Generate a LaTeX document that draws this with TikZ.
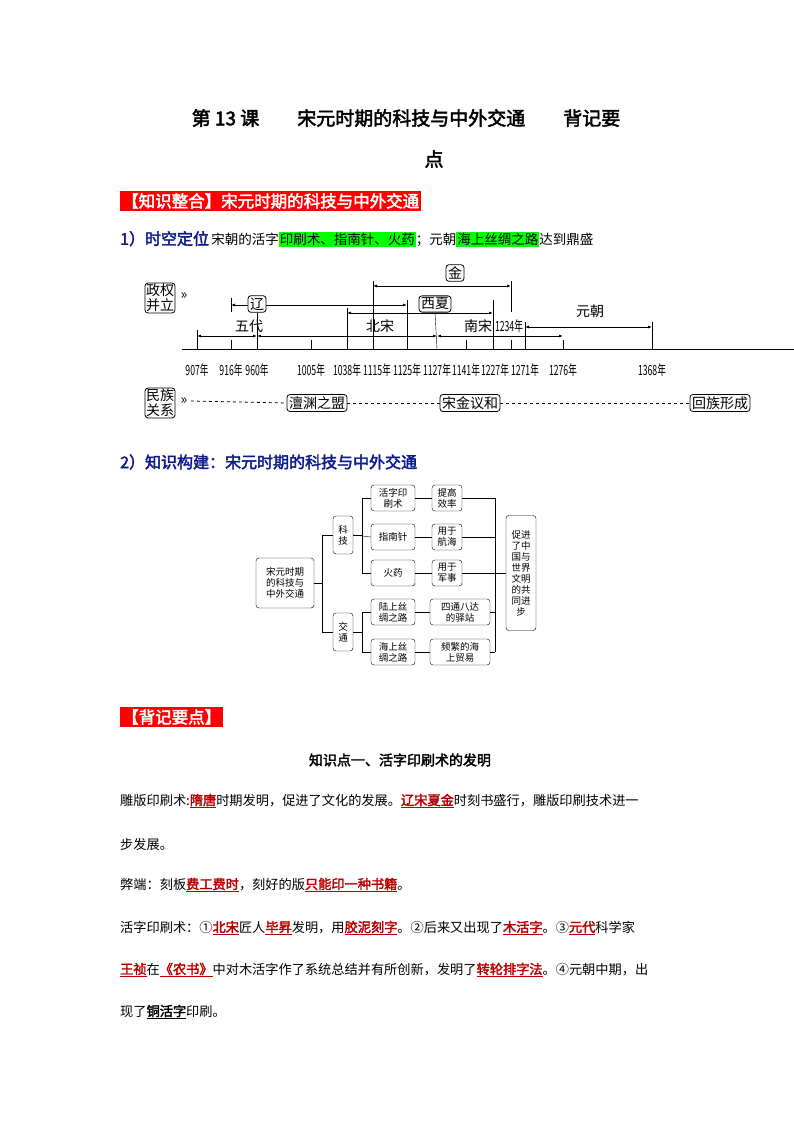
\documentclass[tikz,border=0pt]{standalone}
\usepackage{fontspec}
\setmainfont{Noto Sans CJK SC}[AutoFakeBold=2.5]
\usetikzlibrary{arrows.meta}
\definecolor{dred}{rgb}{0.72,0,0}
\definecolor{navy}{rgb}{0.05,0.1,0.55}
\newcommand{\hl}[1]{\textcolor{dred}{\textbf{\underline{#1}}}}
\newcommand{\yrtxt}[1]{\scalebox{0.62}[1]{#1}}
\begin{document}
\begin{tikzpicture}[x=1pt,y=-1pt,
 rb/.style={draw,rounded corners=3pt,thick,inner sep=2pt,fill=white,font=\fontsize{14}{15}\selectfont},
 fb/.style={draw,rounded corners=3pt,inner sep=1pt,align=center,font=\fontsize{9.5}{11}\selectfont},
 dbl/.style={{Latex[length=4pt]}-{Latex[length=4pt]},thick},
 yr/.style={font=\fontsize{14}{14}\selectfont},
 tl/.style={font=\fontsize{14}{15}\selectfont},
 bt/.style={anchor=west,font=\fontsize{13.2}{14}\selectfont,inner sep=0pt}]
\useasboundingbox (0,0) rectangle (794,1123);
% titles
\node[font=\bfseries\fontsize{19}{20}\selectfont] (t1) at (406,118) {第 13 课\qquad 宋元时期的科技与中外交通\qquad 背记要};
\node[font=\bfseries\fontsize{19}{20}\selectfont] (t2) at (434,159) {点};
\node[fill=red,text=white,anchor=west,inner sep=2pt,font=\bfseries\fontsize{16.5}{18}\selectfont] (b1) at (120,201) {【知识整合】宋元时期的科技与中外交通};
\node[anchor=west,inner sep=0pt] (l1) at (120,239) {\textcolor{navy}{\bfseries\fontsize{16}{17}\selectfont 1）时空定位}\ \fontsize{13.5}{15}\selectfont\setlength{\fboxsep}{1pt}宋朝的活字\colorbox{green}{印刷术、指南针、火药}；元朝\colorbox{green}{海上丝绸之路}达到鼎盛};
% timeline
\draw[thick] (182,349) -- (794,349);
\foreach \x/\t in {197/907年,231/916年,257/960年,311/1005年,347/1038年,377/1115年,407/1125年,437/1127年,466/1141年,495/1227年,525/1271年,563/1276年,652/1368年}
 \node[yr] at (\x,370) {\yrtxt{\t}};
\foreach \x in {231,311,466,511,563} \draw (\x,340) -- (\x,349);
\draw (197,330) -- (197,349);
\draw (652,322) -- (652,349);
\draw (525,322) -- (525,349);
\draw (493,300) -- (493,349);
\draw (407,300) -- (407,349);
\draw (373,281) -- (373,349);
\draw (347,308) -- (347,349);
\draw (231,298) -- (231,312);
\draw (511,281) -- (511,312);
\draw[dbl] (197,336) -- (257,336);
\draw[dbl] (257,336) -- (437,336);
\draw[dbl] (437,336) -- (563,336);
\draw[dbl] (525,327) -- (652,327);
\draw[dbl] (231,305) -- (407,305);
\draw[dbl] (347,313) -- (493,313);
\draw[dbl] (373,286) -- (511,286);
\node[tl] (wd) at (249,326) {五代};
\node[tl] (bs) at (380,326) {北宋};
\node[tl] (ns) at (478,326) {南宋};
\node[yr] (y34) at (509,326) {\yrtxt{1234年}};
\node[tl] (yc) at (590,311) {元朝};
\node[rb] (liao) at (257,304) {辽};
\node[rb] (xx) at (435,304) {西夏};
\node[rb] (jin) at (455,273) {金};
\draw (liao.south) -- (257,349);
\draw (xx.south) -- (437,349);
\node[rb,align=center,inner sep=1pt] (zq) at (160,298) {政权\\并立};
\node[font=\fontsize{14}{14}\selectfont] at (184,296) {»};
\node[rb,align=center,inner sep=1pt] (mz) at (160,403) {民族\\关系};
\node[font=\fontsize{14}{14}\selectfont] (mzr) at (184,401) {»};
\node[rb] (cy) at (317,403) {澶渊之盟};
\node[rb] (sj) at (470,403) {宋金议和};
\node[rb] (hz) at (720,403) {回族形成};
\draw[dashed,thick] (mzr.east) -- (cy.west); \draw[dashed,thick] (cy.east) -- (sj.west); \draw[dashed,thick] (sj.east) -- (hz.west);
% 2)
\node[anchor=west,inner sep=0pt,text=navy,font=\bfseries\fontsize{16}{17}\selectfont] (l2) at (120,462) {2）知识构建：宋元时期的科技与中外交通};
% flowchart
\node[fb,minimum width=58pt,minimum height=50pt] (m) at (285,583) {宋元时期\\的科技与\\中外交通};
\node[fb,minimum width=20pt,minimum height=38pt] (kj) at (343,535) {科\\技};
\node[fb,minimum width=20pt,minimum height=38pt] (jt) at (343,632) {交\\通};
\foreach \n/\y/\t in {a/498/活字印\\刷术,b/537/指南针,c/573/火药,d/612/陆上丝\\绸之路,e/652/海上丝\\绸之路}
 \node[fb,minimum width=44pt,minimum height=26pt] (\n) at (393,\y) {\t};
\foreach \n/\y/\t in {a2/498/提高\\效率,b2/537/用于\\航海,c2/573/用于\\军事}
 \node[fb,minimum width=30pt,minimum height=26pt] (\n) at (447,\y) {\t};
\node[fb,minimum width=60pt,minimum height=26pt] (d2) at (460,612) {四通八达\\的驿站};
\node[fb,minimum width=60pt,minimum height=26pt] (e2) at (460,652) {频繁的海\\上贸易};
\node[fb,minimum width=30pt,minimum height=115pt] (r) at (521,573) {促进\\了中\\国与\\世界\\文明\\的共\\同进\\步};
\draw (m.east) -- (322,583); \draw (322,535) -- (322,632);
\draw (322,535) -- (kj.west); \draw (322,632) -- (jt.west);
\draw (kj.east) -- (362,535); \draw (362,498) -- (362,573);
\draw (362,498) -- (a.west); \draw (362,573) -- (c.west); \draw (kj.east) -- (b.west);
\draw (jt.east) -- (362,632); \draw (362,612) -- (362,652);
\draw (362,612) -- (d.west); \draw (362,652) -- (e.west);
\foreach \p in {a,b,c,d,e} \draw (\p.east) -- (\p2.west);
\draw (a2.east) -- (495,498); \draw (b2.east) -- (495,537); \draw (c2.east) -- (r.west);
\draw (d2.east) -- (495,612); \draw (e2.east) -- (495,652);
\draw (495,498) -- (495,652);
% lower
\node[fill=red,text=white,anchor=west,inner sep=2pt,font=\bfseries\fontsize{16.5}{18}\selectfont] (b2x) at (120,717) {【背记要点】};
\node[font=\bfseries\fontsize{14}{16}\selectfont] (h) at (400,760) {知识点一、活字印刷术的发明};
\node[bt] (p1) at (120,801) {雕版印刷术:\hl{隋唐}时期发明，促进了文化的发展。\hl{辽宋夏金}时刻书盛行，雕版印刷技术进一};
\node[bt] (p2) at (120,844) {步发展。};
\node[bt] (p3) at (120,885) {弊端：刻板\hl{费工费时}，刻好的版\hl{只能印一种书籍}。};
\node[bt] (p4) at (120,928) {活字印刷术：①\hl{北宋}匠人\hl{毕昇}发明，用\hl{胶泥刻字}。②后来又出现了\hl{木活字}。③\hl{元代}科学家};
\node[bt] (p5) at (120,970) {\hl{王祯}在\hl{《农书》}中对木活字作了系统总结并有所创新，发明了\hl{转轮排字法}。④元朝中期，出};
\node[bt] (p6) at (120,1012) {现了\textbf{\underline{铜活字}}印刷。};
\end{tikzpicture}
\end{document}
